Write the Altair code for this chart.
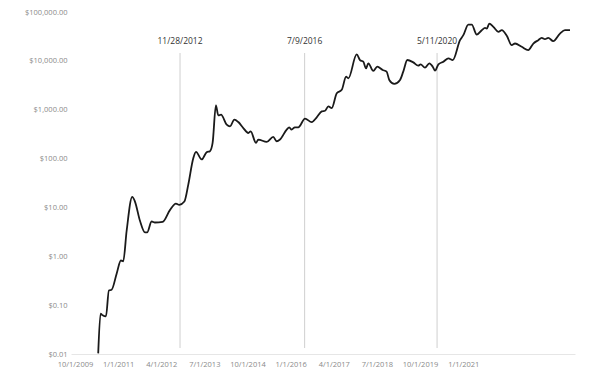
import altair as alt
import pandas as pd

dates = [
    "2010-07-16", "2010-08-10", "2010-09-01", "2010-10-06", "2010-11-06", "2010-12-05",
    "2011-01-27", "2011-03-13", "2011-04-07", "2011-05-13", "2011-07-11", "2011-08-09",
    "2011-10-01", "2011-11-23", "2011-12-16", "2012-02-01", "2012-03-07", "2012-05-28",
    "2012-08-13", "2012-10-16", "2012-11-20", "2013-01-13", "2013-02-24", "2013-04-18",
    "2013-05-16", "2013-07-15", "2013-09-06", "2013-10-11", "2013-11-08", "2013-12-13",
    "2014-01-07", "2014-02-05", "2014-04-06", "2014-05-11", "2014-06-26", "2014-08-07",
    "2014-09-29", "2014-11-21", "2014-12-16", "2015-02-10", "2015-03-06", "2015-06-04",
    "2015-08-12", "2015-09-17", "2015-10-22", "2016-01-01", "2016-01-28", "2016-02-22",
    "2016-03-28", "2016-05-03", "2016-07-13", "2016-09-22", "2016-11-14", "2017-01-06",
    "2017-02-10", "2017-03-17", "2017-04-22", "2017-06-14", "2017-08-06", "2017-09-21",
    "2017-10-15", "2018-01-11", "2018-02-15", "2018-03-22", "2018-04-20", "2018-05-14",
    "2018-07-06", "2018-08-17", "2018-10-13", "2018-11-24", "2018-12-22", "2019-02-13",
    "2019-04-15", "2019-05-19", "2019-07-01", "2019-09-02", "2019-10-25", "2019-11-19",
    "2020-01-04", "2020-02-19", "2020-03-26", "2020-04-19", "2020-05-25", "2020-07-17",
    "2020-09-08", "2020-10-24", "2021-01-09", "2021-02-13", "2021-04-07", "2021-05-13",
    "2021-07-05", "2021-08-27", "2021-10-01", "2021-10-19", "2021-11-15", "2021-12-28",
    "2022-02-19", "2022-03-27", "2022-05-19", "2022-07-10", "2022-08-14", "2022-10-24",
    "2023-01-01", "2023-02-24", "2023-04-17", "2023-05-23", "2023-06-27", "2023-08-01",
    "2023-09-23", "2023-12-03", "2024-01-25", "2024-03-18",
]
prices = [
    0.0103, 0.067, 0.062, 0.059, 0.20, 0.207,
    0.44, 0.82, 0.79, 3.33, 16.4, 13.2,
    5.33, 3.08, 3.08, 5.15, 4.92, 5.08,
    8.8, 12.0, 11.3, 13.2, 29.7, 103,
    137, 96, 135, 142, 209, 1222,
    765, 790, 495, 457, 625, 559,
    422, 334, 361, 209, 245, 219,
    277, 226, 245, 391, 436, 391,
    436, 436, 655, 559, 697, 923,
    953, 1166, 1077, 2175, 2552, 4756,
    4390, 13520, 10400, 9610, 7020, 8870,
    6210, 7600, 6510, 6010, 4075, 3380,
    4075, 6010, 10400, 9300, 7960, 8470,
    7250, 8870, 7600, 6300, 8470, 9610,
    11200, 10400, 26550, 33560, 55200, 55200,
    34500, 42430, 47240, 45700, 57800, 49540,
    39170, 42430, 32490, 21000, 22640, 19400,
    16630, 22640, 26550, 29580, 27830, 29580,
    25350, 36160, 42430, 42430,
]

halving_dates = ["2012-11-28", "2016-07-09", "2020-05-11"]
halving_labels = ["11/28/2012", "7/9/2016", "5/11/2020"]

tick_dates = [(2009, 10), (2011, 1), (2012, 4), (2013, 7), (2014, 10),
              (2016, 1), (2017, 4), (2018, 7), (2019, 10), (2021, 1)]
y_ticks = [0.01, 0.1, 1, 10, 100, 1000, 10000, 100000]

df = pd.DataFrame({"date": dates, "price": prices})
hv = pd.DataFrame({"date": halving_dates, "label": halving_labels})

FONT = "Open Sans"

x_scale = alt.Scale(
    type="utc",
    domain=[alt.DateTime(year=2009, month=10, date=1, utc=True),
            alt.DateTime(year=2024, month=5, date=10, utc=True)],
)
y_scale = alt.Scale(type="log", domain=[0.01, 100000])

x_axis = alt.Axis(
    values=[alt.DateTime(year=y, month=m, date=1, utc=True) for y, m in tick_dates],
    labelExpr="utcFormat(datum.value, '%-m/%-d/%Y')",
    title=None, grid=False, ticks=False, domainColor="#e6e6e6",
    labelColor="#8a8a8a", labelFont=FONT, labelFontSize=7.5,
    labelPadding=6, labelOffset=4, labelAngle=0, labelOverlap=False,
    labelFlush=False,
)
y_axis = alt.Axis(
    values=y_ticks, format="$,.2f", title=None, grid=False, ticks=False,
    domain=False, labelColor="#8a8a8a", labelFont=FONT, labelFontSize=7.5,
    labelPadding=4, labelOverlap=False, labelFlush=False,
)

line = alt.Chart(df).mark_line(color="#1a1a1a", strokeWidth=1.8, interpolate="monotone").encode(
    x=alt.X("date:T", scale=x_scale, axis=x_axis),
    y=alt.Y("price:Q", scale=y_scale, axis=y_axis),
)

rules = alt.Chart(hv).mark_rule(color="#cfcfcf", strokeWidth=1).encode(
    x=alt.X("date:T", scale=x_scale),
    y=alt.value(41),
    y2=alt.value(336),
)

labels = alt.Chart(hv).mark_text(
    font=FONT, fontSize=8.5, color="#333333", align="center", baseline="middle"
).encode(
    x=alt.X("date:T", scale=x_scale),
    y=alt.value(29),
    text="label:N",
)

chart = alt.layer(rules, line, labels).properties(
    width=504, height=342,
    autosize=alt.AutoSizeParams(type="none"),
    padding={"left": 63, "top": 4, "right": 10, "bottom": 25},
).configure_view(stroke=None)

chart.save("out.html", embed_options={"renderer": "svg", "actions": False})
